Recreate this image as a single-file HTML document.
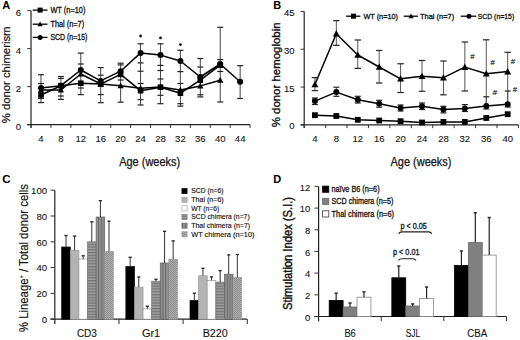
<!DOCTYPE html>
<html><head><meta charset="utf-8"><style>
html,body{margin:0;padding:0;background:#fff;}
svg{display:block;}
text{font-family:"Liberation Sans", sans-serif;}
</style></head><body>
<svg width="520" height="340" viewBox="0 0 520 340">
<defs>
<pattern id="hs" width="6" height="2.8" patternUnits="userSpaceOnUse"><rect width="6" height="2.8" fill="#a2a2a2"/><rect width="6" height="1.3" fill="#727272"/></pattern>
<pattern id="vs" width="2.8" height="6" patternUnits="userSpaceOnUse"><rect width="2.8" height="6" fill="#939393"/><rect width="1.1" height="6" fill="#6a6a6a"/></pattern>
<pattern id="ck" width="2" height="2" patternUnits="userSpaceOnUse"><rect width="2" height="2" fill="#b0b0b0"/><rect width="1" height="1" fill="#8c8c8c"/><rect x="1" y="1" width="1" height="1" fill="#8c8c8c"/></pattern>
</defs>
<rect width="520" height="340" fill="#fff"/>
<text x="2.2" y="9.4" font-size="11" text-anchor="start" font-weight="bold" fill="#000">A</text>
<line x1="31.0" y1="10.6" x2="31.0" y2="127.9" stroke="#222" stroke-width="1.2"/>
<line x1="27.2" y1="124.7" x2="250.1" y2="124.7" stroke="#222" stroke-width="1.2"/>
<line x1="27.2" y1="124.7" x2="31.0" y2="124.7" stroke="#333" stroke-width="1.0"/>
<text x="21.0" y="129.7" font-size="9.5" text-anchor="end" fill="#111" stroke="#111" stroke-width="0.1">0</text>
<line x1="27.2" y1="86.66666666666666" x2="31.0" y2="86.66666666666666" stroke="#333" stroke-width="1.0"/>
<text x="21.0" y="91.66666666666666" font-size="9.5" text-anchor="end" fill="#111" stroke="#111" stroke-width="0.1">2</text>
<line x1="27.2" y1="48.633333333333326" x2="31.0" y2="48.633333333333326" stroke="#333" stroke-width="1.0"/>
<text x="21.0" y="53.633333333333326" font-size="9.5" text-anchor="end" fill="#111" stroke="#111" stroke-width="0.1">4</text>
<line x1="27.2" y1="10.599999999999994" x2="31.0" y2="10.599999999999994" stroke="#333" stroke-width="1.0"/>
<text x="21.0" y="15.599999999999994" font-size="9.5" text-anchor="end" fill="#111" stroke="#111" stroke-width="0.1">6</text>
<line x1="31.0" y1="124.7" x2="31.0" y2="127.9" stroke="#333" stroke-width="1.0"/>
<line x1="50.91818181818182" y1="124.7" x2="50.91818181818182" y2="127.9" stroke="#333" stroke-width="1.0"/>
<line x1="70.83636363636364" y1="124.7" x2="70.83636363636364" y2="127.9" stroke="#333" stroke-width="1.0"/>
<line x1="90.75454545454545" y1="124.7" x2="90.75454545454545" y2="127.9" stroke="#333" stroke-width="1.0"/>
<line x1="110.67272727272727" y1="124.7" x2="110.67272727272727" y2="127.9" stroke="#333" stroke-width="1.0"/>
<line x1="130.5909090909091" y1="124.7" x2="130.5909090909091" y2="127.9" stroke="#333" stroke-width="1.0"/>
<line x1="150.5090909090909" y1="124.7" x2="150.5090909090909" y2="127.9" stroke="#333" stroke-width="1.0"/>
<line x1="170.42727272727274" y1="124.7" x2="170.42727272727274" y2="127.9" stroke="#333" stroke-width="1.0"/>
<line x1="190.34545454545454" y1="124.7" x2="190.34545454545454" y2="127.9" stroke="#333" stroke-width="1.0"/>
<line x1="210.26363636363635" y1="124.7" x2="210.26363636363635" y2="127.9" stroke="#333" stroke-width="1.0"/>
<line x1="230.1818181818182" y1="124.7" x2="230.1818181818182" y2="127.9" stroke="#333" stroke-width="1.0"/>
<line x1="250.1" y1="124.7" x2="250.1" y2="127.9" stroke="#333" stroke-width="1.0"/>
<text x="40.95909090909091" y="141.9" font-size="9.5" text-anchor="middle" fill="#111" stroke="#111" stroke-width="0.1">4</text>
<text x="60.877272727272725" y="141.9" font-size="9.5" text-anchor="middle" fill="#111" stroke="#111" stroke-width="0.1">8</text>
<text x="80.79545454545455" y="141.9" font-size="9.5" text-anchor="middle" fill="#111" stroke="#111" stroke-width="0.1">12</text>
<text x="100.71363636363637" y="141.9" font-size="9.5" text-anchor="middle" fill="#111" stroke="#111" stroke-width="0.1">16</text>
<text x="120.63181818181818" y="141.9" font-size="9.5" text-anchor="middle" fill="#111" stroke="#111" stroke-width="0.1">20</text>
<text x="140.55" y="141.9" font-size="9.5" text-anchor="middle" fill="#111" stroke="#111" stroke-width="0.1">24</text>
<text x="160.46818181818182" y="141.9" font-size="9.5" text-anchor="middle" fill="#111" stroke="#111" stroke-width="0.1">28</text>
<text x="180.38636363636363" y="141.9" font-size="9.5" text-anchor="middle" fill="#111" stroke="#111" stroke-width="0.1">32</text>
<text x="200.30454545454546" y="141.9" font-size="9.5" text-anchor="middle" fill="#111" stroke="#111" stroke-width="0.1">36</text>
<text x="220.22272727272727" y="141.9" font-size="9.5" text-anchor="middle" fill="#111" stroke="#111" stroke-width="0.1">40</text>
<text x="240.14090909090908" y="141.9" font-size="9.5" text-anchor="middle" fill="#111" stroke="#111" stroke-width="0.1">44</text>
<text x="119.2" y="165.5" font-size="12" text-anchor="start" textLength="61" lengthAdjust="spacingAndGlyphs" fill="#111" stroke="#111" stroke-width="0.25">Age (weeks)</text>
<text x="9.7" y="123.3" font-size="11.5" text-anchor="start" textLength="96.8" lengthAdjust="spacingAndGlyphs" transform="rotate(-90 9.7 123.3)" fill="#111" stroke="#111" stroke-width="0.2">% donor chimerism</text>
<line x1="40.95909090909091" y1="74.7" x2="40.95909090909091" y2="102.6" stroke="#444" stroke-width="1.0"/>
<line x1="37.95909090909091" y1="74.7" x2="43.95909090909091" y2="74.7" stroke="#222" stroke-width="1.2"/>
<line x1="37.95909090909091" y1="83.5" x2="43.95909090909091" y2="83.5" stroke="#222" stroke-width="1.2"/>
<line x1="37.95909090909091" y1="98.5" x2="43.95909090909091" y2="98.5" stroke="#222" stroke-width="1.2"/>
<line x1="37.95909090909091" y1="102.6" x2="43.95909090909091" y2="102.6" stroke="#222" stroke-width="1.2"/>
<line x1="60.877272727272725" y1="76.5" x2="60.877272727272725" y2="99.4" stroke="#444" stroke-width="1.0"/>
<line x1="57.877272727272725" y1="76.5" x2="63.877272727272725" y2="76.5" stroke="#222" stroke-width="1.2"/>
<line x1="57.877272727272725" y1="78.4" x2="63.877272727272725" y2="78.4" stroke="#222" stroke-width="1.2"/>
<line x1="57.877272727272725" y1="96" x2="63.877272727272725" y2="96" stroke="#222" stroke-width="1.2"/>
<line x1="57.877272727272725" y1="99.4" x2="63.877272727272725" y2="99.4" stroke="#222" stroke-width="1.2"/>
<line x1="80.79545454545455" y1="53.1" x2="80.79545454545455" y2="94.6" stroke="#444" stroke-width="1.0"/>
<line x1="77.79545454545455" y1="53.1" x2="83.79545454545455" y2="53.1" stroke="#222" stroke-width="1.2"/>
<line x1="77.79545454545455" y1="64" x2="83.79545454545455" y2="64" stroke="#222" stroke-width="1.2"/>
<line x1="77.79545454545455" y1="88" x2="83.79545454545455" y2="88" stroke="#222" stroke-width="1.2"/>
<line x1="77.79545454545455" y1="94.6" x2="83.79545454545455" y2="94.6" stroke="#222" stroke-width="1.2"/>
<line x1="100.71363636363637" y1="67.6" x2="100.71363636363637" y2="102.7" stroke="#444" stroke-width="1.0"/>
<line x1="97.71363636363637" y1="67.6" x2="103.71363636363637" y2="67.6" stroke="#222" stroke-width="1.2"/>
<line x1="97.71363636363637" y1="75.2" x2="103.71363636363637" y2="75.2" stroke="#222" stroke-width="1.2"/>
<line x1="97.71363636363637" y1="94.6" x2="103.71363636363637" y2="94.6" stroke="#222" stroke-width="1.2"/>
<line x1="97.71363636363637" y1="102.7" x2="103.71363636363637" y2="102.7" stroke="#222" stroke-width="1.2"/>
<line x1="120.63181818181818" y1="63.2" x2="120.63181818181818" y2="102.2" stroke="#444" stroke-width="1.0"/>
<line x1="117.63181818181818" y1="63.2" x2="123.63181818181818" y2="63.2" stroke="#222" stroke-width="1.2"/>
<line x1="117.63181818181818" y1="64.9" x2="123.63181818181818" y2="64.9" stroke="#222" stroke-width="1.2"/>
<line x1="117.63181818181818" y1="80" x2="123.63181818181818" y2="80" stroke="#222" stroke-width="1.2"/>
<line x1="117.63181818181818" y1="102.2" x2="123.63181818181818" y2="102.2" stroke="#222" stroke-width="1.2"/>
<line x1="140.55" y1="43.8" x2="140.55" y2="105.0" stroke="#444" stroke-width="1.0"/>
<line x1="137.55" y1="43.8" x2="143.55" y2="43.8" stroke="#222" stroke-width="1.2"/>
<line x1="137.55" y1="62.9" x2="143.55" y2="62.9" stroke="#222" stroke-width="1.2"/>
<line x1="137.55" y1="71.2" x2="143.55" y2="71.2" stroke="#222" stroke-width="1.2"/>
<line x1="137.55" y1="83.5" x2="143.55" y2="83.5" stroke="#222" stroke-width="1.2"/>
<line x1="137.55" y1="99.6" x2="143.55" y2="99.6" stroke="#222" stroke-width="1.2"/>
<line x1="137.55" y1="105.0" x2="143.55" y2="105.0" stroke="#222" stroke-width="1.2"/>
<line x1="160.46818181818182" y1="43.8" x2="160.46818181818182" y2="103.7" stroke="#444" stroke-width="1.0"/>
<line x1="157.46818181818182" y1="43.8" x2="163.46818181818182" y2="43.8" stroke="#222" stroke-width="1.2"/>
<line x1="157.46818181818182" y1="65.4" x2="163.46818181818182" y2="65.4" stroke="#222" stroke-width="1.2"/>
<line x1="157.46818181818182" y1="70.5" x2="163.46818181818182" y2="70.5" stroke="#222" stroke-width="1.2"/>
<line x1="157.46818181818182" y1="79" x2="163.46818181818182" y2="79" stroke="#222" stroke-width="1.2"/>
<line x1="157.46818181818182" y1="95.3" x2="163.46818181818182" y2="95.3" stroke="#222" stroke-width="1.2"/>
<line x1="157.46818181818182" y1="103.7" x2="163.46818181818182" y2="103.7" stroke="#222" stroke-width="1.2"/>
<line x1="180.38636363636363" y1="50.3" x2="180.38636363636363" y2="106.1" stroke="#444" stroke-width="1.0"/>
<line x1="177.38636363636363" y1="50.3" x2="183.38636363636363" y2="50.3" stroke="#222" stroke-width="1.2"/>
<line x1="177.38636363636363" y1="71.6" x2="183.38636363636363" y2="71.6" stroke="#222" stroke-width="1.2"/>
<line x1="177.38636363636363" y1="83.5" x2="183.38636363636363" y2="83.5" stroke="#222" stroke-width="1.2"/>
<line x1="177.38636363636363" y1="103.7" x2="183.38636363636363" y2="103.7" stroke="#222" stroke-width="1.2"/>
<line x1="177.38636363636363" y1="106.1" x2="183.38636363636363" y2="106.1" stroke="#222" stroke-width="1.2"/>
<line x1="200.30454545454546" y1="58.5" x2="200.30454545454546" y2="96.9" stroke="#444" stroke-width="1.0"/>
<line x1="197.30454545454546" y1="58.5" x2="203.30454545454546" y2="58.5" stroke="#222" stroke-width="1.2"/>
<line x1="197.30454545454546" y1="67" x2="203.30454545454546" y2="67" stroke="#222" stroke-width="1.2"/>
<line x1="197.30454545454546" y1="94.8" x2="203.30454545454546" y2="94.8" stroke="#222" stroke-width="1.2"/>
<line x1="197.30454545454546" y1="96.9" x2="203.30454545454546" y2="96.9" stroke="#222" stroke-width="1.2"/>
<line x1="220.22272727272727" y1="27.3" x2="220.22272727272727" y2="102.0" stroke="#444" stroke-width="1.0"/>
<line x1="217.22272727272727" y1="27.3" x2="223.22272727272727" y2="27.3" stroke="#222" stroke-width="1.2"/>
<line x1="217.22272727272727" y1="59.6" x2="223.22272727272727" y2="59.6" stroke="#222" stroke-width="1.2"/>
<line x1="217.22272727272727" y1="71.5" x2="223.22272727272727" y2="71.5" stroke="#222" stroke-width="1.2"/>
<line x1="217.22272727272727" y1="102.0" x2="223.22272727272727" y2="102.0" stroke="#222" stroke-width="1.2"/>
<line x1="240.14090909090908" y1="65.7" x2="240.14090909090908" y2="98.5" stroke="#444" stroke-width="1.0"/>
<line x1="237.14090909090908" y1="65.7" x2="243.14090909090908" y2="65.7" stroke="#222" stroke-width="1.2"/>
<line x1="237.14090909090908" y1="98.5" x2="243.14090909090908" y2="98.5" stroke="#222" stroke-width="1.2"/>
<polyline points="41.0,90.0 60.9,90.0 80.8,74.0 100.7,84.0 120.6,85.7 140.6,88.3 160.5,87.0 180.4,90.0 200.3,85.9 220.2,80.2" fill="none" stroke="#000" stroke-width="1.5" stroke-linejoin="round"/>
<polyline points="41.0,95.0 60.9,85.7 80.8,83.2 100.7,84.1 120.6,74.4 140.6,90.7 160.5,87.2 180.4,93.2 200.3,80.2 220.2,65.2" fill="none" stroke="#000" stroke-width="1.5" stroke-linejoin="round"/>
<polyline points="41.0,87.9 60.9,85.7 80.8,70.0 100.7,80.9 120.6,71.2 140.6,52.9 160.5,55.1 180.4,61.0 200.3,77.0 220.2,64.0 240.1,81.8" fill="none" stroke="#000" stroke-width="1.5" stroke-linejoin="round"/>
<rect x="38.2" y="92.2" width="5.6" height="5.6" fill="#000"/>
<rect x="58.1" y="82.9" width="5.6" height="5.6" fill="#000"/>
<rect x="78.0" y="80.4" width="5.6" height="5.6" fill="#000"/>
<rect x="97.9" y="81.3" width="5.6" height="5.6" fill="#000"/>
<rect x="117.8" y="71.6" width="5.6" height="5.6" fill="#000"/>
<rect x="137.8" y="87.9" width="5.6" height="5.6" fill="#000"/>
<rect x="157.7" y="84.4" width="5.6" height="5.6" fill="#000"/>
<rect x="177.6" y="90.4" width="5.6" height="5.6" fill="#000"/>
<rect x="197.5" y="77.4" width="5.6" height="5.6" fill="#000"/>
<rect x="217.4" y="62.4" width="5.6" height="5.6" fill="#000"/>
<path d="M37.8,92.5 L41.0,86.8 L44.1,92.5 Z" fill="#000"/>
<path d="M57.7,92.5 L60.9,86.8 L64.0,92.5 Z" fill="#000"/>
<path d="M77.6,76.5 L80.8,70.8 L83.9,76.5 Z" fill="#000"/>
<path d="M97.6,86.5 L100.7,80.8 L103.9,86.5 Z" fill="#000"/>
<path d="M117.5,88.2 L120.6,82.5 L123.8,88.2 Z" fill="#000"/>
<path d="M137.4,90.8 L140.6,85.1 L143.7,90.8 Z" fill="#000"/>
<path d="M157.3,89.5 L160.5,83.8 L163.6,89.5 Z" fill="#000"/>
<path d="M177.2,92.5 L180.4,86.8 L183.5,92.5 Z" fill="#000"/>
<path d="M197.2,88.5 L200.3,82.8 L203.5,88.5 Z" fill="#000"/>
<path d="M217.1,82.8 L220.2,77.0 L223.4,82.8 Z" fill="#000"/>
<circle cx="41.0" cy="87.9" r="3.0" fill="#000"/>
<circle cx="60.9" cy="85.7" r="3.0" fill="#000"/>
<circle cx="80.8" cy="70.0" r="3.0" fill="#000"/>
<circle cx="100.7" cy="80.9" r="3.0" fill="#000"/>
<circle cx="120.6" cy="71.2" r="3.0" fill="#000"/>
<circle cx="140.6" cy="52.9" r="3.0" fill="#000"/>
<circle cx="160.5" cy="55.1" r="3.0" fill="#000"/>
<circle cx="180.4" cy="61.0" r="3.0" fill="#000"/>
<circle cx="200.3" cy="77.0" r="3.0" fill="#000"/>
<circle cx="220.2" cy="64.0" r="3.0" fill="#000"/>
<circle cx="240.1" cy="81.8" r="3.0" fill="#000"/>
<circle cx="140.6" cy="36.0" r="1.4" fill="#111"/>
<circle cx="160.5" cy="37.9" r="1.4" fill="#111"/>
<circle cx="180.4" cy="44.6" r="1.4" fill="#111"/>
<line x1="32.7" y1="10.1" x2="47.5" y2="10.1" stroke="#000" stroke-width="1.3"/>
<rect x="37.6" y="7.6" width="5.0" height="5.0" fill="#000"/>
<text x="50.4" y="12.5" font-size="8.2" text-anchor="start" textLength="35" lengthAdjust="spacingAndGlyphs" fill="#111" stroke="#111" stroke-width="0.3">WT (n=10)</text>
<line x1="32.7" y1="24.2" x2="47.5" y2="24.2" stroke="#000" stroke-width="1.3"/>
<path d="M37.5,26.3 L40.1,21.6 L42.7,26.3 Z" fill="#000"/>
<text x="50.4" y="26.599999999999998" font-size="8.2" text-anchor="start" textLength="33.7" lengthAdjust="spacingAndGlyphs" fill="#111" stroke="#111" stroke-width="0.3">Thal (n=7)</text>
<line x1="32.7" y1="37.4" x2="47.5" y2="37.4" stroke="#000" stroke-width="1.3"/>
<circle cx="40.1" cy="37.4" r="2.5" fill="#000"/>
<text x="50.4" y="39.8" font-size="8.2" text-anchor="start" textLength="37" lengthAdjust="spacingAndGlyphs" fill="#111" stroke="#111" stroke-width="0.3">SCD (n=15)</text>
<text x="273.3" y="9.3" font-size="11" text-anchor="start" font-weight="bold" fill="#000">B</text>
<line x1="304.2" y1="11.4" x2="304.2" y2="128.1" stroke="#222" stroke-width="1.2"/>
<line x1="300.59999999999997" y1="124.9" x2="518.4" y2="124.9" stroke="#222" stroke-width="1.2"/>
<line x1="300.59999999999997" y1="124.9" x2="304.2" y2="124.9" stroke="#333" stroke-width="1.0"/>
<text x="294.6" y="129.4" font-size="9.5" text-anchor="end" fill="#111" stroke="#111" stroke-width="0.1">0</text>
<line x1="300.59999999999997" y1="87.06666666666666" x2="304.2" y2="87.06666666666666" stroke="#333" stroke-width="1.0"/>
<text x="294.6" y="91.56666666666666" font-size="9.5" text-anchor="end" fill="#111" stroke="#111" stroke-width="0.1">15</text>
<line x1="300.59999999999997" y1="49.233333333333334" x2="304.2" y2="49.233333333333334" stroke="#333" stroke-width="1.0"/>
<text x="294.6" y="53.733333333333334" font-size="9.5" text-anchor="end" fill="#111" stroke="#111" stroke-width="0.1">30</text>
<line x1="300.59999999999997" y1="11.400000000000006" x2="304.2" y2="11.400000000000006" stroke="#333" stroke-width="1.0"/>
<text x="294.6" y="15.900000000000006" font-size="9.5" text-anchor="end" fill="#111" stroke="#111" stroke-width="0.1">45</text>
<line x1="304.2" y1="124.9" x2="304.2" y2="128.1" stroke="#333" stroke-width="1.0"/>
<line x1="325.62" y1="124.9" x2="325.62" y2="128.1" stroke="#333" stroke-width="1.0"/>
<line x1="347.03999999999996" y1="124.9" x2="347.03999999999996" y2="128.1" stroke="#333" stroke-width="1.0"/>
<line x1="368.46" y1="124.9" x2="368.46" y2="128.1" stroke="#333" stroke-width="1.0"/>
<line x1="389.88" y1="124.9" x2="389.88" y2="128.1" stroke="#333" stroke-width="1.0"/>
<line x1="411.29999999999995" y1="124.9" x2="411.29999999999995" y2="128.1" stroke="#333" stroke-width="1.0"/>
<line x1="432.71999999999997" y1="124.9" x2="432.71999999999997" y2="128.1" stroke="#333" stroke-width="1.0"/>
<line x1="454.14" y1="124.9" x2="454.14" y2="128.1" stroke="#333" stroke-width="1.0"/>
<line x1="475.55999999999995" y1="124.9" x2="475.55999999999995" y2="128.1" stroke="#333" stroke-width="1.0"/>
<line x1="496.97999999999996" y1="124.9" x2="496.97999999999996" y2="128.1" stroke="#333" stroke-width="1.0"/>
<line x1="518.4" y1="124.9" x2="518.4" y2="128.1" stroke="#333" stroke-width="1.0"/>
<text x="314.90999999999997" y="142.1" font-size="9.5" text-anchor="middle" fill="#111" stroke="#111" stroke-width="0.1">4</text>
<text x="336.33" y="142.1" font-size="9.5" text-anchor="middle" fill="#111" stroke="#111" stroke-width="0.1">8</text>
<text x="357.75" y="142.1" font-size="9.5" text-anchor="middle" fill="#111" stroke="#111" stroke-width="0.1">12</text>
<text x="379.16999999999996" y="142.1" font-size="9.5" text-anchor="middle" fill="#111" stroke="#111" stroke-width="0.1">16</text>
<text x="400.59" y="142.1" font-size="9.5" text-anchor="middle" fill="#111" stroke="#111" stroke-width="0.1">20</text>
<text x="422.01" y="142.1" font-size="9.5" text-anchor="middle" fill="#111" stroke="#111" stroke-width="0.1">24</text>
<text x="443.42999999999995" y="142.1" font-size="9.5" text-anchor="middle" fill="#111" stroke="#111" stroke-width="0.1">28</text>
<text x="464.84999999999997" y="142.1" font-size="9.5" text-anchor="middle" fill="#111" stroke="#111" stroke-width="0.1">32</text>
<text x="486.27" y="142.1" font-size="9.5" text-anchor="middle" fill="#111" stroke="#111" stroke-width="0.1">36</text>
<text x="507.68999999999994" y="142.1" font-size="9.5" text-anchor="middle" fill="#111" stroke="#111" stroke-width="0.1">40</text>
<text x="390.5" y="165.5" font-size="12" text-anchor="start" textLength="61" lengthAdjust="spacingAndGlyphs" fill="#111" stroke="#111" stroke-width="0.25">Age (weeks)</text>
<text x="280.4" y="127.3" font-size="11.3" text-anchor="start" textLength="104.9" lengthAdjust="spacingAndGlyphs" transform="rotate(-90 280.4 127.3)" fill="#111" stroke="#111" stroke-width="0.35">% donor hemoglobin</text>
<line x1="314.90999999999997" y1="77.6" x2="314.90999999999997" y2="90.6" stroke="#555" stroke-width="1.0"/>
<line x1="311.71" y1="77.6" x2="318.10999999999996" y2="77.6" stroke="#222" stroke-width="1.2"/>
<line x1="311.71" y1="90.6" x2="318.10999999999996" y2="90.6" stroke="#222" stroke-width="1.2"/>
<line x1="314.90999999999997" y1="98" x2="314.90999999999997" y2="104.5" stroke="#555" stroke-width="1.0"/>
<line x1="311.90999999999997" y1="98" x2="317.90999999999997" y2="98" stroke="#222" stroke-width="1.2"/>
<line x1="311.90999999999997" y1="104.5" x2="317.90999999999997" y2="104.5" stroke="#222" stroke-width="1.2"/>
<line x1="336.33" y1="20.6" x2="336.33" y2="45.3" stroke="#555" stroke-width="1.0"/>
<line x1="333.13" y1="20.6" x2="339.53" y2="20.6" stroke="#222" stroke-width="1.2"/>
<line x1="333.13" y1="45.3" x2="339.53" y2="45.3" stroke="#222" stroke-width="1.2"/>
<line x1="336.33" y1="87.2" x2="336.33" y2="96.3" stroke="#555" stroke-width="1.0"/>
<line x1="333.33" y1="87.2" x2="339.33" y2="87.2" stroke="#222" stroke-width="1.2"/>
<line x1="333.33" y1="96.3" x2="339.33" y2="96.3" stroke="#222" stroke-width="1.2"/>
<line x1="357.75" y1="40" x2="357.75" y2="68.4" stroke="#555" stroke-width="1.0"/>
<line x1="354.55" y1="40" x2="360.95" y2="40" stroke="#222" stroke-width="1.2"/>
<line x1="354.55" y1="68.4" x2="360.95" y2="68.4" stroke="#222" stroke-width="1.2"/>
<line x1="357.75" y1="96.3" x2="357.75" y2="103" stroke="#555" stroke-width="1.0"/>
<line x1="354.75" y1="96.3" x2="360.75" y2="96.3" stroke="#222" stroke-width="1.2"/>
<line x1="354.75" y1="103" x2="360.75" y2="103" stroke="#222" stroke-width="1.2"/>
<line x1="379.16999999999996" y1="50.5" x2="379.16999999999996" y2="83" stroke="#555" stroke-width="1.0"/>
<line x1="375.96999999999997" y1="50.5" x2="382.36999999999995" y2="50.5" stroke="#222" stroke-width="1.2"/>
<line x1="375.96999999999997" y1="83" x2="382.36999999999995" y2="83" stroke="#222" stroke-width="1.2"/>
<line x1="379.16999999999996" y1="100.3" x2="379.16999999999996" y2="107.2" stroke="#555" stroke-width="1.0"/>
<line x1="376.16999999999996" y1="100.3" x2="382.16999999999996" y2="100.3" stroke="#222" stroke-width="1.2"/>
<line x1="376.16999999999996" y1="107.2" x2="382.16999999999996" y2="107.2" stroke="#222" stroke-width="1.2"/>
<line x1="400.59" y1="63.75" x2="400.59" y2="92.5" stroke="#555" stroke-width="1.0"/>
<line x1="397.39" y1="63.75" x2="403.78999999999996" y2="63.75" stroke="#222" stroke-width="1.2"/>
<line x1="397.39" y1="92.5" x2="403.78999999999996" y2="92.5" stroke="#222" stroke-width="1.2"/>
<line x1="400.59" y1="105" x2="400.59" y2="111" stroke="#555" stroke-width="1.0"/>
<line x1="397.59" y1="105" x2="403.59" y2="105" stroke="#222" stroke-width="1.2"/>
<line x1="397.59" y1="111" x2="403.59" y2="111" stroke="#222" stroke-width="1.2"/>
<line x1="422.01" y1="60.5" x2="422.01" y2="91.25" stroke="#555" stroke-width="1.0"/>
<line x1="418.81" y1="60.5" x2="425.21" y2="60.5" stroke="#222" stroke-width="1.2"/>
<line x1="418.81" y1="91.25" x2="425.21" y2="91.25" stroke="#222" stroke-width="1.2"/>
<line x1="422.01" y1="103" x2="422.01" y2="109.5" stroke="#555" stroke-width="1.0"/>
<line x1="419.01" y1="103" x2="425.01" y2="103" stroke="#222" stroke-width="1.2"/>
<line x1="419.01" y1="109.5" x2="425.01" y2="109.5" stroke="#222" stroke-width="1.2"/>
<line x1="443.42999999999995" y1="61" x2="443.42999999999995" y2="94.8" stroke="#555" stroke-width="1.0"/>
<line x1="440.22999999999996" y1="61" x2="446.62999999999994" y2="61" stroke="#222" stroke-width="1.2"/>
<line x1="440.22999999999996" y1="94.8" x2="446.62999999999994" y2="94.8" stroke="#222" stroke-width="1.2"/>
<line x1="443.42999999999995" y1="106.3" x2="443.42999999999995" y2="112.9" stroke="#555" stroke-width="1.0"/>
<line x1="440.42999999999995" y1="106.3" x2="446.42999999999995" y2="106.3" stroke="#222" stroke-width="1.2"/>
<line x1="440.42999999999995" y1="112.9" x2="446.42999999999995" y2="112.9" stroke="#222" stroke-width="1.2"/>
<line x1="464.84999999999997" y1="42" x2="464.84999999999997" y2="91" stroke="#555" stroke-width="1.0"/>
<line x1="461.65" y1="42" x2="468.04999999999995" y2="42" stroke="#222" stroke-width="1.2"/>
<line x1="461.65" y1="91" x2="468.04999999999995" y2="91" stroke="#222" stroke-width="1.2"/>
<line x1="464.84999999999997" y1="104.6" x2="464.84999999999997" y2="111.5" stroke="#555" stroke-width="1.0"/>
<line x1="461.84999999999997" y1="104.6" x2="467.84999999999997" y2="104.6" stroke="#222" stroke-width="1.2"/>
<line x1="461.84999999999997" y1="111.5" x2="467.84999999999997" y2="111.5" stroke="#222" stroke-width="1.2"/>
<line x1="486.27" y1="39.8" x2="486.27" y2="106" stroke="#555" stroke-width="1.0"/>
<line x1="483.07" y1="39.8" x2="489.46999999999997" y2="39.8" stroke="#222" stroke-width="1.2"/>
<line x1="486.27" y1="96.8" x2="486.27" y2="109" stroke="#555" stroke-width="1.0"/>
<line x1="483.27" y1="96.8" x2="489.27" y2="96.8" stroke="#222" stroke-width="1.2"/>
<line x1="483.27" y1="109" x2="489.27" y2="109" stroke="#222" stroke-width="1.2"/>
<line x1="507.68999999999994" y1="52.3" x2="507.68999999999994" y2="104.2" stroke="#555" stroke-width="1.0"/>
<line x1="504.48999999999995" y1="52.3" x2="510.88999999999993" y2="52.3" stroke="#222" stroke-width="1.2"/>
<line x1="507.68999999999994" y1="91" x2="507.68999999999994" y2="107" stroke="#555" stroke-width="1.0"/>
<line x1="504.68999999999994" y1="91" x2="510.68999999999994" y2="91" stroke="#222" stroke-width="1.2"/>
<line x1="504.68999999999994" y1="107" x2="510.68999999999994" y2="107" stroke="#222" stroke-width="1.2"/>
<polyline points="314.9,84.5 336.3,33.8 357.8,55.0 379.2,67.0 400.6,78.8 422.0,76.2 443.4,77.7 464.8,67.1 486.3,73.7 507.7,71.6" fill="none" stroke="#000" stroke-width="1.5" stroke-linejoin="round"/>
<polyline points="314.9,101.1 336.3,92.1 357.8,99.8 379.2,103.8 400.6,108.0 422.0,106.2 443.4,109.4 464.8,108.5 486.3,106.0 507.7,104.2" fill="none" stroke="#000" stroke-width="1.5" stroke-linejoin="round"/>
<polyline points="314.9,115.2 336.3,116.0 357.8,119.8 379.2,120.5 400.6,121.2 422.0,122.5 443.4,121.9 464.8,121.9 486.3,118.0 507.7,114.2" fill="none" stroke="#000" stroke-width="1.5" stroke-linejoin="round"/>
<rect x="312.0" y="112.3" width="5.8" height="5.8" fill="#000"/>
<rect x="333.4" y="113.1" width="5.8" height="5.8" fill="#000"/>
<rect x="354.9" y="116.9" width="5.8" height="5.8" fill="#000"/>
<rect x="376.3" y="117.6" width="5.8" height="5.8" fill="#000"/>
<rect x="397.7" y="118.3" width="5.8" height="5.8" fill="#000"/>
<rect x="419.1" y="119.6" width="5.8" height="5.8" fill="#000"/>
<rect x="440.5" y="119.0" width="5.8" height="5.8" fill="#000"/>
<rect x="461.9" y="119.0" width="5.8" height="5.8" fill="#000"/>
<rect x="483.4" y="115.1" width="5.8" height="5.8" fill="#000"/>
<rect x="504.8" y="111.3" width="5.8" height="5.8" fill="#000"/>
<path d="M311.4,87.3 L314.9,81.0 L318.4,87.3 Z" fill="#000"/>
<path d="M332.9,36.6 L336.3,30.3 L339.8,36.6 Z" fill="#000"/>
<path d="M354.3,57.8 L357.8,51.5 L361.2,57.8 Z" fill="#000"/>
<path d="M375.7,69.8 L379.2,63.5 L382.6,69.8 Z" fill="#000"/>
<path d="M397.1,81.6 L400.6,75.3 L404.1,81.6 Z" fill="#000"/>
<path d="M418.5,79.1 L422.0,72.8 L425.5,79.1 Z" fill="#000"/>
<path d="M440.0,80.5 L443.4,74.2 L446.9,80.5 Z" fill="#000"/>
<path d="M461.4,69.9 L464.8,63.6 L468.3,69.9 Z" fill="#000"/>
<path d="M482.8,76.5 L486.3,70.2 L489.7,76.5 Z" fill="#000"/>
<path d="M504.2,74.4 L507.7,68.1 L511.2,74.4 Z" fill="#000"/>
<circle cx="314.9" cy="101.1" r="3.0" fill="#000"/>
<circle cx="336.3" cy="92.1" r="3.0" fill="#000"/>
<circle cx="357.8" cy="99.8" r="3.0" fill="#000"/>
<circle cx="379.2" cy="103.8" r="3.0" fill="#000"/>
<circle cx="400.6" cy="108.0" r="3.0" fill="#000"/>
<circle cx="422.0" cy="106.2" r="3.0" fill="#000"/>
<circle cx="443.4" cy="109.4" r="3.0" fill="#000"/>
<circle cx="464.8" cy="108.5" r="3.0" fill="#000"/>
<circle cx="486.3" cy="106.0" r="3.0" fill="#000"/>
<circle cx="507.7" cy="104.2" r="3.0" fill="#000"/>
<text x="472.3" y="58.5" font-size="7.5" text-anchor="middle" fill="#333" stroke="#333" stroke-width="0.2" font-style="italic">#</text>
<text x="492.7" y="65.1" font-size="7.5" text-anchor="middle" fill="#333" stroke="#333" stroke-width="0.2" font-style="italic">#</text>
<text x="494.9" y="95.1" font-size="7.5" text-anchor="middle" fill="#333" stroke="#333" stroke-width="0.2" font-style="italic">#</text>
<text x="512.8" y="63.8" font-size="7.5" text-anchor="middle" fill="#333" stroke="#333" stroke-width="0.2" font-style="italic">#</text>
<text x="514.8" y="92.2" font-size="7.5" text-anchor="middle" fill="#333" stroke="#333" stroke-width="0.2" font-style="italic">#</text>
<line x1="346.1" y1="16.2" x2="360.4" y2="16.2" stroke="#000" stroke-width="1.3"/>
<rect x="351.0" y="13.7" width="5.0" height="5.0" fill="#000"/>
<text x="363.4" y="18.8" font-size="7.5" text-anchor="start" textLength="34.6" lengthAdjust="spacingAndGlyphs" fill="#111" stroke="#111" stroke-width="0.3">WT (n=10)</text>
<line x1="403.7" y1="16.2" x2="417.9" y2="16.2" stroke="#000" stroke-width="1.3"/>
<path d="M408.4,18.3 L411.0,13.6 L413.6,18.3 Z" fill="#000"/>
<text x="420" y="18.8" font-size="7.5" text-anchor="start" textLength="34.2" lengthAdjust="spacingAndGlyphs" fill="#111" stroke="#111" stroke-width="0.3">Thal (n=7)</text>
<line x1="460.8" y1="16.2" x2="476.2" y2="16.2" stroke="#000" stroke-width="1.3"/>
<circle cx="469.0" cy="16.2" r="2.5" fill="#000"/>
<text x="477.7" y="18.8" font-size="7.5" text-anchor="start" textLength="36.5" lengthAdjust="spacingAndGlyphs" fill="#111" stroke="#111" stroke-width="0.3">SCD (n=15)</text>
<text x="2.2" y="183.3" font-size="11.5" text-anchor="start" font-weight="bold" fill="#000">C</text>
<line x1="54.8" y1="190.2" x2="54.8" y2="324.0" stroke="#222" stroke-width="1.2"/>
<line x1="50.5" y1="319.2" x2="247.3" y2="319.2" stroke="#222" stroke-width="1.2"/>
<line x1="50.5" y1="319.2" x2="54.8" y2="319.2" stroke="#333" stroke-width="1.0"/>
<text x="47.1" y="322.9" font-size="9.6" text-anchor="end" fill="#111" stroke="#111" stroke-width="0.1">0</text>
<line x1="50.5" y1="293.4" x2="54.8" y2="293.4" stroke="#333" stroke-width="1.0"/>
<text x="47.1" y="297.09999999999997" font-size="9.6" text-anchor="end" fill="#111" stroke="#111" stroke-width="0.1">20</text>
<line x1="50.5" y1="267.59999999999997" x2="54.8" y2="267.59999999999997" stroke="#333" stroke-width="1.0"/>
<text x="47.1" y="271.29999999999995" font-size="9.6" text-anchor="end" fill="#111" stroke="#111" stroke-width="0.1">40</text>
<line x1="50.5" y1="241.79999999999998" x2="54.8" y2="241.79999999999998" stroke="#333" stroke-width="1.0"/>
<text x="47.1" y="245.49999999999997" font-size="9.6" text-anchor="end" fill="#111" stroke="#111" stroke-width="0.1">60</text>
<line x1="50.5" y1="216.0" x2="54.8" y2="216.0" stroke="#333" stroke-width="1.0"/>
<text x="47.1" y="219.7" font-size="9.6" text-anchor="end" fill="#111" stroke="#111" stroke-width="0.1">80</text>
<line x1="50.5" y1="190.2" x2="54.8" y2="190.2" stroke="#333" stroke-width="1.0"/>
<text x="47.1" y="193.89999999999998" font-size="9.6" text-anchor="end" fill="#111" stroke="#111" stroke-width="0.1">100</text>
<line x1="118.96666666666667" y1="319.2" x2="118.96666666666667" y2="324.0" stroke="#333" stroke-width="1.0"/>
<line x1="183.13333333333333" y1="319.2" x2="183.13333333333333" y2="324.0" stroke="#333" stroke-width="1.0"/>
<line x1="247.3" y1="319.2" x2="247.3" y2="324.0" stroke="#333" stroke-width="1.0"/>
<text x="86.88333333333333" y="337.0" font-size="10.5" text-anchor="middle" textLength="20" lengthAdjust="spacingAndGlyphs" fill="#111" stroke="#111" stroke-width="0.1">CD3</text>
<text x="151.05" y="337.0" font-size="10.5" text-anchor="middle" textLength="18.3" lengthAdjust="spacingAndGlyphs" fill="#111" stroke="#111" stroke-width="0.1">Gr1</text>
<text x="215.2166666666667" y="337.0" font-size="10.5" text-anchor="middle" textLength="25.1" lengthAdjust="spacingAndGlyphs" fill="#111" stroke="#111" stroke-width="0.1">B220</text>
<text x="28.3" y="332.0" font-size="12" text-anchor="start" textLength="147.9" lengthAdjust="spacingAndGlyphs" transform="rotate(-90 28.3 332.0)" fill="#111" stroke="#111" stroke-width="0.15">% Lineage<tspan font-size="6" dy="-5">+</tspan><tspan dy="5"> / Total donor cells</tspan></text>
<rect x="61.70" y="247" width="8.6" height="72.20" fill="#000" stroke="#000" stroke-width="0.7"/>
<rect x="70.30" y="250.4" width="8.6" height="68.80" fill="#b4b4b4" stroke="#999" stroke-width="0.7"/>
<rect x="78.90" y="259" width="8.6" height="60.20" fill="#fff" stroke="#999" stroke-width="0.7"/>
<rect x="87.50" y="241.8" width="8.6" height="77.40" fill="url(#hs)" stroke="#777" stroke-width="0.7"/>
<rect x="96.10" y="217" width="8.6" height="102.20" fill="url(#vs)" stroke="#666" stroke-width="0.7"/>
<rect x="104.70" y="251.4" width="8.6" height="67.80" fill="url(#ck)" stroke="#999" stroke-width="0.7"/>
<rect x="125.87" y="266.5" width="8.6" height="52.70" fill="#000" stroke="#000" stroke-width="0.7"/>
<rect x="134.47" y="287.1" width="8.6" height="32.10" fill="#b4b4b4" stroke="#999" stroke-width="0.7"/>
<rect x="143.07" y="308.9" width="8.6" height="10.30" fill="#fff" stroke="#999" stroke-width="0.7"/>
<rect x="151.67" y="281.2" width="8.6" height="38.00" fill="url(#hs)" stroke="#777" stroke-width="0.7"/>
<rect x="160.27" y="263" width="8.6" height="56.20" fill="url(#vs)" stroke="#666" stroke-width="0.7"/>
<rect x="168.87" y="259.2" width="8.6" height="60.00" fill="url(#ck)" stroke="#999" stroke-width="0.7"/>
<rect x="190.03" y="300.5" width="8.6" height="18.70" fill="#000" stroke="#000" stroke-width="0.7"/>
<rect x="198.63" y="275.8" width="8.6" height="43.40" fill="#b4b4b4" stroke="#999" stroke-width="0.7"/>
<rect x="207.23" y="280.5" width="8.6" height="38.70" fill="#fff" stroke="#999" stroke-width="0.7"/>
<rect x="215.83" y="282.1" width="8.6" height="37.10" fill="url(#hs)" stroke="#777" stroke-width="0.7"/>
<rect x="224.43" y="274.2" width="8.6" height="45.00" fill="url(#vs)" stroke="#666" stroke-width="0.7"/>
<rect x="233.03" y="277.5" width="8.6" height="41.70" fill="url(#ck)" stroke="#999" stroke-width="0.7"/>
<line x1="66.0" y1="235.5" x2="66.0" y2="247" stroke="#333" stroke-width="1.0"/>
<line x1="64.4" y1="235.5" x2="67.6" y2="235.5" stroke="#222" stroke-width="1.3"/>
<line x1="74.6" y1="236.1" x2="74.6" y2="250.4" stroke="#333" stroke-width="1.0"/>
<line x1="73.0" y1="236.1" x2="76.19999999999999" y2="236.1" stroke="#222" stroke-width="1.3"/>
<line x1="83.19999999999999" y1="255.8" x2="83.19999999999999" y2="259" stroke="#333" stroke-width="1.0"/>
<line x1="81.6" y1="255.8" x2="84.79999999999998" y2="255.8" stroke="#222" stroke-width="1.3"/>
<line x1="91.8" y1="221.8" x2="91.8" y2="241.8" stroke="#333" stroke-width="1.0"/>
<line x1="90.2" y1="221.8" x2="93.39999999999999" y2="221.8" stroke="#222" stroke-width="1.3"/>
<line x1="100.39999999999999" y1="200.7" x2="100.39999999999999" y2="217" stroke="#333" stroke-width="1.0"/>
<line x1="98.8" y1="200.7" x2="101.99999999999999" y2="200.7" stroke="#222" stroke-width="1.3"/>
<line x1="108.99999999999999" y1="221.2" x2="108.99999999999999" y2="251.4" stroke="#333" stroke-width="1.0"/>
<line x1="107.39999999999999" y1="221.2" x2="110.59999999999998" y2="221.2" stroke="#222" stroke-width="1.3"/>
<line x1="130.16666666666669" y1="257.3" x2="130.16666666666669" y2="266.5" stroke="#333" stroke-width="1.0"/>
<line x1="128.5666666666667" y1="257.3" x2="131.76666666666668" y2="257.3" stroke="#222" stroke-width="1.3"/>
<line x1="138.76666666666668" y1="277" x2="138.76666666666668" y2="287.1" stroke="#333" stroke-width="1.0"/>
<line x1="137.16666666666669" y1="277" x2="140.36666666666667" y2="277" stroke="#222" stroke-width="1.3"/>
<line x1="147.36666666666667" y1="306.2" x2="147.36666666666667" y2="308.9" stroke="#333" stroke-width="1.0"/>
<line x1="145.76666666666668" y1="306.2" x2="148.96666666666667" y2="306.2" stroke="#222" stroke-width="1.3"/>
<line x1="155.9666666666667" y1="279.3" x2="155.9666666666667" y2="281.2" stroke="#333" stroke-width="1.0"/>
<line x1="154.3666666666667" y1="279.3" x2="157.5666666666667" y2="279.3" stroke="#222" stroke-width="1.3"/>
<line x1="164.5666666666667" y1="231.3" x2="164.5666666666667" y2="263" stroke="#333" stroke-width="1.0"/>
<line x1="162.9666666666667" y1="231.3" x2="166.16666666666669" y2="231.3" stroke="#222" stroke-width="1.3"/>
<line x1="173.16666666666669" y1="240.9" x2="173.16666666666669" y2="259.2" stroke="#333" stroke-width="1.0"/>
<line x1="171.5666666666667" y1="240.9" x2="174.76666666666668" y2="240.9" stroke="#222" stroke-width="1.3"/>
<line x1="194.33333333333334" y1="293.2" x2="194.33333333333334" y2="300.5" stroke="#333" stroke-width="1.0"/>
<line x1="192.73333333333335" y1="293.2" x2="195.93333333333334" y2="293.2" stroke="#222" stroke-width="1.3"/>
<line x1="202.93333333333334" y1="268.3" x2="202.93333333333334" y2="275.8" stroke="#333" stroke-width="1.0"/>
<line x1="201.33333333333334" y1="268.3" x2="204.53333333333333" y2="268.3" stroke="#222" stroke-width="1.3"/>
<line x1="211.53333333333333" y1="276.9" x2="211.53333333333333" y2="280.5" stroke="#333" stroke-width="1.0"/>
<line x1="209.93333333333334" y1="276.9" x2="213.13333333333333" y2="276.9" stroke="#222" stroke-width="1.3"/>
<line x1="220.13333333333333" y1="270.6" x2="220.13333333333333" y2="282.1" stroke="#333" stroke-width="1.0"/>
<line x1="218.53333333333333" y1="270.6" x2="221.73333333333332" y2="270.6" stroke="#222" stroke-width="1.3"/>
<line x1="228.73333333333335" y1="254.9" x2="228.73333333333335" y2="274.2" stroke="#333" stroke-width="1.0"/>
<line x1="227.13333333333335" y1="254.9" x2="230.33333333333334" y2="254.9" stroke="#222" stroke-width="1.3"/>
<line x1="237.33333333333334" y1="254.5" x2="237.33333333333334" y2="277.5" stroke="#333" stroke-width="1.0"/>
<line x1="235.73333333333335" y1="254.5" x2="238.93333333333334" y2="254.5" stroke="#222" stroke-width="1.3"/>
<rect x="181.9" y="188.50" width="5.2" height="5.2" fill="#000" stroke="#000" stroke-width="0.6"/>
<text x="191.2" y="193.29999999999998" font-size="7.4" text-anchor="start" textLength="32.3" lengthAdjust="spacingAndGlyphs" fill="#111" stroke="#111" stroke-width="0.15">SCD (n=6)</text>
<rect x="181.9" y="197.14" width="5.2" height="5.2" fill="#b4b4b4" stroke="#999" stroke-width="0.6"/>
<text x="191.2" y="201.94" font-size="7.4" text-anchor="start" textLength="32.5" lengthAdjust="spacingAndGlyphs" fill="#111" stroke="#111" stroke-width="0.15">Thal (n=6)</text>
<rect x="181.9" y="205.78" width="5.2" height="5.2" fill="#fff" stroke="#999" stroke-width="0.6"/>
<text x="191.2" y="210.57999999999998" font-size="7.4" text-anchor="start" textLength="28" lengthAdjust="spacingAndGlyphs" fill="#111" stroke="#111" stroke-width="0.15">WT (n=6)</text>
<rect x="181.9" y="214.42" width="5.2" height="5.2" fill="url(#hs)" stroke="#777" stroke-width="0.6"/>
<text x="191.2" y="219.21999999999997" font-size="7.4" text-anchor="start" textLength="58.5" lengthAdjust="spacingAndGlyphs" fill="#111" stroke="#111" stroke-width="0.15">SCD chimera (n=7)</text>
<rect x="181.9" y="223.06" width="5.2" height="5.2" fill="url(#vs)" stroke="#666" stroke-width="0.6"/>
<text x="191.2" y="227.85999999999999" font-size="7.4" text-anchor="start" textLength="59" lengthAdjust="spacingAndGlyphs" fill="#111" stroke="#111" stroke-width="0.15">Thal chimera (n=7)</text>
<rect x="181.9" y="231.70" width="5.2" height="5.2" fill="url(#ck)" stroke="#999" stroke-width="0.6"/>
<text x="191.2" y="236.5" font-size="7.4" text-anchor="start" textLength="63.3" lengthAdjust="spacingAndGlyphs" fill="#111" stroke="#111" stroke-width="0.15">WT chimera (n=10)</text>
<text x="273.3" y="182.9" font-size="11" text-anchor="start" font-weight="bold" fill="#000">D</text>
<line x1="318.6" y1="186.4" x2="318.6" y2="321.3" stroke="#222" stroke-width="1.2"/>
<line x1="314.5" y1="316.5" x2="506.5" y2="316.5" stroke="#222" stroke-width="1.2"/>
<line x1="314.5" y1="316.5" x2="318.6" y2="316.5" stroke="#333" stroke-width="1.0"/>
<text x="310.3" y="320.7" font-size="9.5" text-anchor="end" fill="#111" stroke="#111" stroke-width="0.1">0</text>
<line x1="314.5" y1="294.81666666666666" x2="318.6" y2="294.81666666666666" stroke="#333" stroke-width="1.0"/>
<text x="310.3" y="299.01666666666665" font-size="9.5" text-anchor="end" fill="#111" stroke="#111" stroke-width="0.1">2</text>
<line x1="314.5" y1="273.1333333333333" x2="318.6" y2="273.1333333333333" stroke="#333" stroke-width="1.0"/>
<text x="310.3" y="277.3333333333333" font-size="9.5" text-anchor="end" fill="#111" stroke="#111" stroke-width="0.1">4</text>
<line x1="314.5" y1="251.45" x2="318.6" y2="251.45" stroke="#333" stroke-width="1.0"/>
<text x="310.3" y="255.64999999999998" font-size="9.5" text-anchor="end" fill="#111" stroke="#111" stroke-width="0.1">6</text>
<line x1="314.5" y1="229.76666666666665" x2="318.6" y2="229.76666666666665" stroke="#333" stroke-width="1.0"/>
<text x="310.3" y="233.96666666666664" font-size="9.5" text-anchor="end" fill="#111" stroke="#111" stroke-width="0.1">8</text>
<line x1="314.5" y1="208.08333333333331" x2="318.6" y2="208.08333333333331" stroke="#333" stroke-width="1.0"/>
<text x="310.3" y="212.2833333333333" font-size="9.5" text-anchor="end" fill="#111" stroke="#111" stroke-width="0.1">10</text>
<line x1="314.5" y1="186.4" x2="318.6" y2="186.4" stroke="#333" stroke-width="1.0"/>
<text x="310.3" y="190.6" font-size="9.5" text-anchor="end" fill="#111" stroke="#111" stroke-width="0.1">12</text>
<line x1="381.23333333333335" y1="316.5" x2="381.23333333333335" y2="321.1" stroke="#333" stroke-width="1.0"/>
<line x1="443.8666666666667" y1="316.5" x2="443.8666666666667" y2="321.1" stroke="#333" stroke-width="1.0"/>
<line x1="506.5" y1="316.5" x2="506.5" y2="321.1" stroke="#333" stroke-width="1.0"/>
<text x="350.1" y="337.0" font-size="10.5" text-anchor="middle" textLength="11.4" lengthAdjust="spacingAndGlyphs" fill="#111" stroke="#111" stroke-width="0.1">B6</text>
<text x="412.9" y="337.0" font-size="10.5" text-anchor="middle" textLength="14.5" lengthAdjust="spacingAndGlyphs" fill="#111" stroke="#111" stroke-width="0.1">SJL</text>
<text x="477.2" y="337.0" font-size="10.5" text-anchor="middle" textLength="19.9" lengthAdjust="spacingAndGlyphs" fill="#111" stroke="#111" stroke-width="0.1">CBA</text>
<text x="292.3" y="310.0" font-size="12" text-anchor="start" textLength="113.1" lengthAdjust="spacingAndGlyphs" transform="rotate(-90 292.3 310.0)" fill="#111" stroke="#111" stroke-width="0.4">Stimulation Index (S.I.)</text>
<rect x="329.20" y="300.4" width="13.9" height="16.10" fill="#000" stroke="#000" stroke-width="0.8"/>
<rect x="343.10" y="307" width="13.9" height="9.50" fill="#808080" stroke="#666" stroke-width="0.8"/>
<rect x="357.00" y="297.2" width="13.9" height="19.30" fill="#fff" stroke="#888" stroke-width="0.8"/>
<line x1="336.15000000000003" y1="293.2" x2="336.15000000000003" y2="300.4" stroke="#222" stroke-width="1.2"/>
<line x1="334.55" y1="293.2" x2="337.75000000000006" y2="293.2" stroke="#222" stroke-width="1.4"/>
<line x1="350.05" y1="303" x2="350.05" y2="307" stroke="#222" stroke-width="1.2"/>
<line x1="348.45" y1="303" x2="351.65000000000003" y2="303" stroke="#222" stroke-width="1.4"/>
<line x1="363.95000000000005" y1="291.9" x2="363.95000000000005" y2="297.2" stroke="#222" stroke-width="1.2"/>
<line x1="362.35" y1="291.9" x2="365.55000000000007" y2="291.9" stroke="#222" stroke-width="1.4"/>
<rect x="391.83" y="277.8" width="13.9" height="38.70" fill="#000" stroke="#000" stroke-width="0.8"/>
<rect x="405.73" y="306" width="13.9" height="10.50" fill="#808080" stroke="#666" stroke-width="0.8"/>
<rect x="419.63" y="298.4" width="13.9" height="18.10" fill="#fff" stroke="#888" stroke-width="0.8"/>
<line x1="398.78333333333336" y1="266" x2="398.78333333333336" y2="277.8" stroke="#222" stroke-width="1.2"/>
<line x1="397.18333333333334" y1="266" x2="400.3833333333334" y2="266" stroke="#222" stroke-width="1.4"/>
<line x1="412.68333333333334" y1="303.9" x2="412.68333333333334" y2="306" stroke="#222" stroke-width="1.2"/>
<line x1="411.0833333333333" y1="303.9" x2="414.28333333333336" y2="303.9" stroke="#222" stroke-width="1.4"/>
<line x1="426.58333333333337" y1="287" x2="426.58333333333337" y2="298.4" stroke="#222" stroke-width="1.2"/>
<line x1="424.98333333333335" y1="287" x2="428.1833333333334" y2="287" stroke="#222" stroke-width="1.4"/>
<rect x="454.47" y="265.4" width="13.9" height="51.10" fill="#000" stroke="#000" stroke-width="0.8"/>
<rect x="468.37" y="242.6" width="13.9" height="73.90" fill="#808080" stroke="#666" stroke-width="0.8"/>
<rect x="482.27" y="255.1" width="13.9" height="61.40" fill="#fff" stroke="#888" stroke-width="0.8"/>
<line x1="461.4166666666667" y1="251" x2="461.4166666666667" y2="265.4" stroke="#222" stroke-width="1.2"/>
<line x1="459.81666666666666" y1="251" x2="463.0166666666667" y2="251" stroke="#222" stroke-width="1.4"/>
<line x1="475.31666666666666" y1="212.8" x2="475.31666666666666" y2="242.6" stroke="#222" stroke-width="1.2"/>
<line x1="473.71666666666664" y1="212.8" x2="476.9166666666667" y2="212.8" stroke="#222" stroke-width="1.4"/>
<line x1="489.2166666666667" y1="217.5" x2="489.2166666666667" y2="255.1" stroke="#222" stroke-width="1.2"/>
<line x1="487.6166666666667" y1="217.5" x2="490.8166666666667" y2="217.5" stroke="#222" stroke-width="1.4"/>
<rect x="322.6" y="186.10" width="6.2" height="6.2" fill="#000" stroke="#000" stroke-width="0.8"/>
<text x="331.5" y="192.10000000000002" font-size="8.2" text-anchor="start" textLength="48.1" lengthAdjust="spacingAndGlyphs" fill="#111" stroke="#111" stroke-width="0.3">naïve B6 (n=6)</text>
<rect x="322.6" y="198.30" width="6.2" height="6.2" fill="#808080" stroke="#666" stroke-width="0.8"/>
<text x="331.5" y="204.3" font-size="8.2" text-anchor="start" textLength="61.9" lengthAdjust="spacingAndGlyphs" fill="#111" stroke="#111" stroke-width="0.3">SCD chimera (n=5)</text>
<rect x="322.6" y="210.80" width="6.2" height="6.2" fill="#fff" stroke="#333" stroke-width="0.8"/>
<text x="331.5" y="216.8" font-size="8.2" text-anchor="start" textLength="62.5" lengthAdjust="spacingAndGlyphs" fill="#111" stroke="#111" stroke-width="0.3">Thal chimera (n=6)</text>
<text x="400.4" y="228.5" font-size="8.4" text-anchor="start" textLength="26.5" lengthAdjust="spacingAndGlyphs" fill="#111" stroke="#111" stroke-width="0.3">p &lt; 0.05</text>
<text x="393.0" y="255.0" font-size="8.4" text-anchor="start" textLength="26.5" lengthAdjust="spacingAndGlyphs" fill="#111" stroke="#111" stroke-width="0.3">p &lt; 0.01</text>
<path d="M398.6,233.8 Q399.5,231.9 402,231.9 L428.5,231.9 Q431,231.9 431.8,233.8" fill="none" stroke="#222" stroke-width="1.1"/>
<path d="M398.6,260.6 Q399.5,258.8 401.5,258.8 L413,258.8 Q415,258.8 416,260.6" fill="none" stroke="#222" stroke-width="1.1"/>
</svg>
</body></html>
